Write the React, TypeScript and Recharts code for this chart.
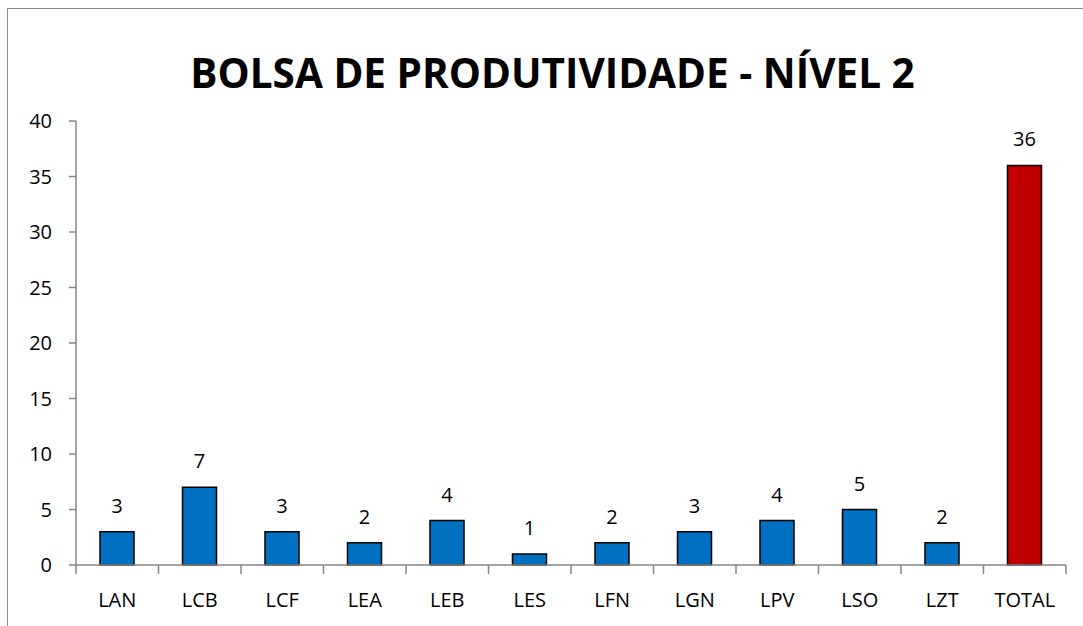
import { BarChart, Bar, XAxis, YAxis, Cell, LabelList } from 'recharts'

const categories = ['LAN', 'LCB', 'LCF', 'LEA', 'LEB', 'LES', 'LFN', 'LGN', 'LPV', 'LSO', 'LZT', 'TOTAL']
const values = [3, 7, 3, 2, 4, 1, 2, 3, 4, 5, 2, 36]
const yTicks = [0, 5, 10, 15, 20, 25, 30, 35, 40]

const data = categories.map((name, i) => ({ name, value: values[i] }))

const FONT = '"Open Sans", sans-serif'
const AXIS_GRAY = '#868686'

// category ticks sit between the bars, the label sits under the bar
const CategoryTick = (props: any) => {
  const { x, y, payload, index } = props
  const half = 82.5 / 2
  const isLast = index === categories.length - 1
  // y comes in already pushed down by tickSize + tickMargin (8px)
  const axisY = y - 8
  return (
    <g>
      <line x1={x - half} y1={axisY} x2={x - half} y2={axisY + 9} stroke={AXIS_GRAY} strokeWidth={1.5} />
      {isLast && (
        <line x1={x + half} y1={axisY} x2={x + half} y2={axisY + 9} stroke={AXIS_GRAY} strokeWidth={1.5} />
      )}
      <text x={x} y={axisY + 42} textAnchor="middle" fontSize={20} fontFamily={FONT} fill="#000">
        {payload.value}
      </text>
    </g>
  )
}

export default function App() {
  return (
    <div style={{ position: 'absolute', left: 0, top: 0, width: 1083, height: 626, overflow: 'hidden', background: '#fff' }}>
      <div
        style={{
          position: 'absolute',
          left: 7,
          top: 8,
          width: 1100,
          height: 640,
          border: '1.5px solid #8a8a8a',
        }}
      />
      <div
        style={{
          position: 'absolute',
          left: 0,
          top: 46,
          width: 1105,
          textAlign: 'center',
          fontFamily: FONT,
          fontWeight: 700,
          fontSize: 40.5,
          lineHeight: '54px',
          color: '#000',
        }}
      >
        BOLSA DE PRODUTIVIDADE - NÍVEL 2
      </div>
      <div style={{ position: 'absolute', left: 0, top: 0 }}>
        <BarChart
          width={1083}
          height={626}
          data={data}
          margin={{ top: 121, right: 17, bottom: 0, left: 0 }}
          barCategoryGap={0}
        >
          <XAxis
            dataKey="name"
            axisLine={{ stroke: AXIS_GRAY, strokeWidth: 1.5 }}
            tickLine={false}
            tickSize={6}
            tickMargin={2}
            tick={<CategoryTick />}
            interval={0}
            height={61}
          />
          <YAxis
            domain={[0, 40]}
            ticks={yTicks}
            width={76}
            axisLine={{ stroke: AXIS_GRAY, strokeWidth: 1.5 }}
            tickLine={{ stroke: AXIS_GRAY, strokeWidth: 1.5 }}
            tickSize={7}
            tickMargin={17}
            tick={{ fontSize: 20, fontFamily: FONT, fill: '#000' }}
          />
          <Bar dataKey="value" barSize={34} stroke="#000" strokeWidth={1.5} isAnimationActive={false}>
            {data.map((d) => (
              <Cell key={d.name} fill={d.name === 'TOTAL' ? '#C00000' : '#0070C0'} />
            ))}
            <LabelList
              dataKey="value"
              position="top"
              offset={19}
              style={{ fontSize: 20, fontFamily: FONT, fill: '#000' }}
            />
          </Bar>
        </BarChart>
      </div>
    </div>
  )
}
